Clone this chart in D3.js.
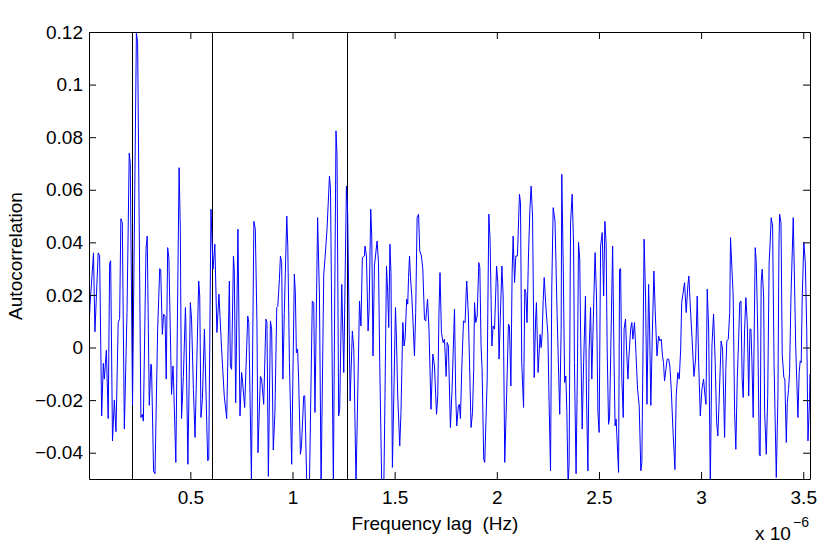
<!DOCTYPE html>
<html>
<head>
<meta charset="utf-8">
<script src="https://cdn.jsdelivr.net/npm/d3@7"></script>
<style>
  body { margin: 0; background: #fff; }
  text { font-family: "Liberation Sans", Arial, Helvetica, sans-serif; fill: #000; }
  .tick text { font-size: 19px; }
</style>
</head>
<body>
<script>
// frequency lag in units of 1e-6 Hz
const lagMicroHz = [
  0.002,0.009,0.026,0.033,0.049,0.056,0.066,0.074,0.079,0.089,
  0.098,0.105,0.110,0.119,0.128,0.136,0.147,0.154,0.160,0.167,
  0.177,0.190,0.201,0.206,0.217,0.236,0.242,0.250,0.258,0.265,
  0.270,0.283,0.289,0.299,0.307,0.310,0.320,0.327,0.340,0.345,
  0.350,0.355,0.363,0.369,0.376,0.382,0.389,0.395,0.408,0.415,
  0.418,0.429,0.445,0.451,0.457,0.466,0.476,0.478,0.488,0.500,
  0.506,0.515,0.523,0.541,0.546,0.552,0.559,0.569,0.573,0.585,
  0.590,0.601,0.611,0.620,0.630,0.640,0.653,0.666,0.678,0.691,
  0.696,0.702,0.711,0.715,0.722,0.733,0.743,0.751,0.756,0.766,
  0.781,0.786,0.799,0.811,0.818,0.826,0.831,0.843,0.849,0.859,
  0.870,0.875,0.882,0.892,0.898,0.906,0.914,0.923,0.928,0.936,
  0.941,0.947,0.953,0.960,0.972,0.977,0.985,0.996,1.009,1.014,
  1.019,1.025,1.030,1.039,1.044,1.055,1.060,1.070,1.083,1.097,
  1.104,1.110,1.123,1.132,1.140,1.153,1.159,1.169,1.181,1.186,
  1.200,1.213,1.218,1.226,1.231,1.241,1.251,1.264,1.270,1.282,
  1.293,1.300,1.311,1.328,1.335,1.342,1.352,1.355,1.362,1.370,
  1.375,1.383,1.388,1.394,1.401,1.414,1.421,1.427,1.437,1.447,
  1.453,1.460,1.466,1.471,1.477,1.482,1.489,1.496,1.504,1.509,
  1.515,1.525,1.531,1.540,1.546,1.551,1.559,1.564,1.568,1.573,
  1.577,1.584,1.590,1.597,1.603,1.610,1.617,1.623,1.631,1.638,
  1.646,1.652,1.661,1.668,1.678,1.687,1.695,1.705,1.711,1.717,
  1.722,1.729,1.737,1.744,1.752,1.757,1.763,
  1.773,1.781,1.793,1.799,1.804,1.812,1.817,1.822,1.829,1.837,
  1.845,1.850,1.853,1.861,1.868,1.874,1.881,1.887,1.891,1.897,
  1.904,1.912,1.917,1.923,1.928,1.936,1.941,1.953,1.956,1.961,
  1.967,1.976,1.982,1.989,1.999,2.005,2.011,2.025,2.031,2.039,
  2.048,2.057,2.062,2.069,2.075,2.080,2.087,2.093,2.101,2.111,
  2.116,2.122,2.131,2.137,2.142,2.148,2.155,2.162,2.168,2.175,
  2.183,2.190,2.194,2.202,2.212,2.217,2.222,2.227,2.232,2.240,
  2.250,2.256,2.263,2.269,2.276,2.285,2.295,2.308,2.315,2.318,
  2.325,2.332,2.338,2.343,2.349,2.354,2.361,2.369,2.376,2.380,
  2.388,2.395,2.400,2.406,2.410,2.418,2.425,2.434,2.439,2.446,
  2.452,2.459,2.465,2.472,2.481,2.488,2.495,2.501,2.508,2.516,
  2.523,2.529,2.535,2.540,2.547,2.552,2.567,2.574,2.579,2.584,
  2.596,2.601,2.606,2.612,2.619,2.623,2.630,2.635,2.642,2.646,
  2.655,2.661,2.666,2.674,2.681,2.689,2.697,2.705,2.710,2.715,
  2.721,2.728,2.735,2.739,2.743,2.748,2.754,2.761,2.769,2.775,
  2.784,2.792,2.798,2.805,2.811,2.816,2.821,2.828,2.834,2.841,
  2.847,2.854,2.862,2.872,2.878,2.886,2.893,2.900,2.905,2.919,
  2.927,2.935,2.940,2.947,2.955,2.965,2.973,2.981,2.988,2.996,
  3.004,3.012,3.019,3.024,3.030,3.037,3.045,3.053,3.061,3.069,
  3.076,3.082,3.089,3.098,3.105,3.115,3.121,3.126,3.133,3.140,
  3.144,3.151,3.157,3.164,3.170,3.177,3.184,3.189,3.195,3.201,
  3.206,3.213,3.219,3.226,3.233,3.239,3.244,3.249,3.255,3.265,
  3.270,3.277,3.285,3.289,3.294,3.299,3.306,3.311,3.319,3.326,
  3.333,3.338,3.343,3.350,3.357,3.368,3.376,3.381,3.384,3.391,
  3.397,3.405,3.410,3.417,3.422,3.428,3.433,3.440,3.451,3.456,
  3.463,3.474,3.480,3.485,3.490,3.495,3.503,3.510,3.517,3.523,
  3.531,3.533
];

const autocorr = [
  0.004,0.016,0.036,0.006,0.036,0.035,-0.026,-0.006,-0.012,-0.001,
  -0.027,0.032,0.033,-0.0355,-0.020,-0.032,0.0095,0.011,0.049,0.0475,
  -0.031,0.0133,0.0739,0.070,-0.022,0.1195,0.116,0.045,-0.0266,-0.0254,
  -0.028,0.0374,0.0424,-0.022,-0.0063,-0.007,-0.047,-0.048,0.007,0.018,
  0.030,0.0295,0.005,0.0127,0.012,-0.012,0.038,0.034,-0.0178,-0.007,
  -0.013,-0.0437,0.0684,0.045,-0.027,-0.011,0.0152,0.0095,-0.0444,0.0171,
  0.0108,-0.0159,-0.0342,0.0253,0.0196,-0.0266,-0.0197,0.007,-0.0057,-0.0431,
  -0.0425,0.0526,0.0298,0.0393,0.0057,0.0203,-0.0006,-0.0184,-0.027,0.0253,
  -0.007,-0.0083,0.0348,0.0298,-0.021,0.045,-0.026,-0.0095,-0.0133,-0.0228,
  0.012,0.0095,-0.050,0.048,0.045,0.0095,-0.040,-0.011,-0.012,-0.0216,
  0.0108,0.0095,-0.049,0.0101,0.007,-0.039,-0.0247,0.0152,0.0156,0.026,
  0.0348,0.0323,-0.012,0.0133,0.050,0.0386,-0.0057,-0.0444,0.0279,0.0209,
  -0.002,-0.0006,-0.012,-0.0406,-0.0374,-0.0184,-0.0184,-0.052,-0.052,0.0177,
  0.0171,-0.0247,0.0494,0.0196,-0.053,0.0279,0.0336,0.045,0.0652,0.0602,
  -0.052,0.0824,0.0729,-0.026,-0.0235,0.024,-0.0095,0.0614,0.0513,-0.0203,
  0.0063,-0.0006,-0.052,0.0177,0.0082,0.0342,0.0348,0.0386,0.0348,0.0063,
  0.0146,0.0526,0.0424,-0.0032,0.031,0.0405,0.0323,-0.0057,-0.053,-0.053,
  -0.017,0.031,0.0209,0.0076,0.0393,0.0285,-0.0456,-0.0184,0.0152,0.0032,
  -0.0184,-0.0374,-0.0247,0.0095,0.0006,0.0032,0.0184,0.0165,0.0266,0.0348,
  0.0272,0.0196,0.0095,-0.0032,0.0133,0.0494,0.0507,0.0367,0.0348,0.0298,
  0.0108,0.0101,0.0184,0.007,-0.0235,-0.0025,-0.007,-0.0254,-0.0184,0.0133,
  0.0285,0.0057,0.0019,0.0032,-0.011,0.0019,0.0006,
  -0.0304,-0.0159,0.0146,-0.0184,-0.0298,-0.0222,-0.0216,-0.027,-0.007,0.0101,
  0.0095,0.0209,0.0253,0.012,-0.0108,-0.0304,-0.0247,-0.0083,0.0171,0.0095,
  0.012,0.0323,0.0304,0.0006,-0.0083,-0.0425,-0.0437,-0.012,0.0133,0.0507,
  0.0412,0.0006,0.0082,0.007,0.031,0.0247,-0.0044,0.031,0.0196,-0.0437,
  -0.0184,0.0089,0.0082,-0.0146,0.0285,0.0424,0.0247,0.0348,0.0348,0.0583,
  0.0551,-0.0057,-0.0228,0.0222,0.021,0.0095,0.0348,0.0526,0.0614,0.050,
  -0.0114,0.0108,0.0171,-0.0095,0.005,0.000,0.005,0.0177,0.0266,0.0158,
  0.005,-0.0209,-0.0469,0.0222,0.0532,0.0481,0.0133,-0.0254,0.007,0.0659,
  0.0323,-0.0133,-0.0108,-0.0247,-0.053,-0.0437,0.0475,0.0583,0.0386,-0.0057,
  -0.048,-0.0057,0.040,0.0336,0.007,-0.031,-0.0057,0.0196,-0.0184,-0.0469,
  -0.0006,0.0152,-0.012,0.0095,0.0361,0.0196,-0.0247,-0.0323,0.0386,0.0437,
  0.0196,0.048,0.0399,0.0006,-0.0292,-0.0266,0.0386,-0.0057,-0.0298,-0.0272,
  -0.0475,0.0298,0.030,-0.012,-0.0266,0.007,0.0108,-0.0006,-0.012,-0.0044,
  0.007,0.0095,0.0032,0.0095,-0.0019,-0.0159,-0.022,-0.0469,-0.0437,-0.0057,
  0.0412,0.0196,-0.0216,-0.0006,0.024,0.007,-0.022,0.0044,0.0291,0.0146,
  -0.0032,0.0044,0.0025,0.0032,-0.0032,-0.0057,-0.0127,-0.0083,-0.0044,-0.0044,
  -0.007,-0.0159,-0.031,-0.0464,-0.0184,-0.0095,-0.012,-0.0006,0.0171,0.0247,
  0.0133,0.0234,0.0272,0.0158,0.0044,-0.011,-0.0044,0.0196,-0.0057,-0.026,
  -0.0159,-0.012,-0.0184,-0.0216,0.0222,0.007,-0.053,0.0006,0.0127,-0.0057,
  -0.0285,-0.0336,-0.0184,0.0025,-0.0006,-0.0342,-0.0083,0.0025,0.0032,0.0133,
  0.0418,0.0298,0.0196,-0.0247,-0.0387,-0.012,0.0038,0.0171,0.0177,-0.012,
  -0.019,0.007,0.019,0.0095,-0.0184,0.007,0.007,-0.0057,-0.0266,0.038,
  0.0323,0.007,-0.0406,-0.0412,0.0247,0.0298,0.0196,-0.0247,-0.0406,-0.0184,
  0.0323,0.0399,0.0494,0.0462,-0.0057,-0.0494,-0.0184,0.0386,0.0507,0.0475,
  -0.0025,-0.0114,-0.012,-0.0361,-0.0209,-0.0159,-0.0095,0.0196,0.0494,0.0298,
  0.0006,-0.0266,-0.0095,-0.0051,-0.0057,0.0196,0.040,0.0323,0.007,-0.0355,
  -0.0197,-0.0101
];

// vertical marker lines (1e-6 Hz)
const markerLags = [0.215, 0.608, 1.266];

const xTicks = [0.5, 1, 1.5, 2, 2.5, 3, 3.5];
const xTickLabels = ['0.5', '1', '1.5', '2', '2.5', '3', '3.5'];
const yTicks = [-0.04, -0.02, 0, 0.02, 0.04, 0.06, 0.08, 0.1, 0.12];
const yTickLabels = ['\u22120.04', '\u22120.02', '0', '0.02', '0.04', '0.06', '0.08', '0.1', '0.12'];

const width = 831, height = 548;

const svg = d3.select('body').append('svg')
  .attr('width', width)
  .attr('height', height);

const x = d3.scaleLinear().domain([0.004, 3.533]).range([89, 810]);
const y = d3.scaleLinear().domain([-0.05, 0.12]).range([479, 32]);

svg.append('clipPath').attr('id', 'plot-clip')
  .append('rect')
    .attr('x', 89.5).attr('y', 32.5)
    .attr('width', 721).attr('height', 447);

const plot = svg.append('g').attr('clip-path', 'url(#plot-clip)');

// markers
plot.selectAll('line.marker')
  .data(markerLags)
  .enter()
  .append('line')
    .attr('class', 'marker')
    .attr('x1', d => Math.round(x(d)) + 0.5)
    .attr('x2', d => Math.round(x(d)) + 0.5)
    .attr('y1', y.range()[1])
    .attr('y2', y.range()[0] + 1)
    .attr('stroke', '#000')
    .attr('stroke-width', 1);

const points = d3.zip(lagMicroHz, autocorr);

const line = d3.line()
  .x(d => x(d[0]))
  .y(d => y(d[1]));

plot.append('path')
  .datum(points)
  .attr('fill', 'none')
  .attr('stroke', '#0000ff')
  .attr('stroke-width', 1)
  .attr('stroke-linejoin', 'miter')
  .attr('d', line);

// axes: ticks point inward on all four sides (box on)
const styleAxis = g => {
  g.selectAll('path.domain').attr('stroke', '#000');
  g.selectAll('.tick line').attr('stroke', '#000');
  g.selectAll('.tick text').attr('fill', '#000');
};

svg.append('g')
  .attr('transform', `translate(0,${y.range()[0]})`)
  .call(d3.axisBottom(x).tickValues(xTicks).tickFormat((d, i) => xTickLabels[i])
    .tickSizeInner(-7).tickSizeOuter(0).tickPadding(12))
  .call(styleAxis);

svg.append('g')
  .attr('transform', `translate(0,${y.range()[1]})`)
  .call(d3.axisTop(x).tickValues(xTicks).tickFormat('')
    .tickSizeInner(-7).tickSizeOuter(0))
  .call(styleAxis);

svg.append('g')
  .attr('transform', `translate(${x.range()[0]},0)`)
  .call(d3.axisLeft(y).tickValues(yTicks).tickFormat((d, i) => yTickLabels[i])
    .tickSizeInner(-7).tickSizeOuter(0).tickPadding(6))
  .call(styleAxis);

svg.append('g')
  .attr('transform', `translate(${x.range()[1]},0)`)
  .call(d3.axisRight(y).tickValues(yTicks).tickFormat('')
    .tickSizeInner(-7).tickSizeOuter(0))
  .call(styleAxis);

svg.selectAll('.tick text').style('font-size', '19px');

// axis labels
svg.append('text')
  .attr('x', 435)
  .attr('y', 530)
  .attr('text-anchor', 'middle')
  .style('font-size', '19px')
  .text('Frequency lag\u00a0 (Hz)');

svg.append('text')
  .attr('transform', 'translate(22,256) rotate(-90)')
  .attr('text-anchor', 'middle')
  .style('font-size', '19px')
  .text('Autocorrelation');

// exponent
const expo = svg.append('text')
  .attr('x', 755)
  .attr('y', 540)
  .style('font-size', '19px');
expo.append('tspan').text('x 10');
expo.append('tspan')
  .attr('x', 793)
  .attr('y', 527)
  .style('font-size', '14px')
  .text('\u22126');
</script>
</body>
</html>
